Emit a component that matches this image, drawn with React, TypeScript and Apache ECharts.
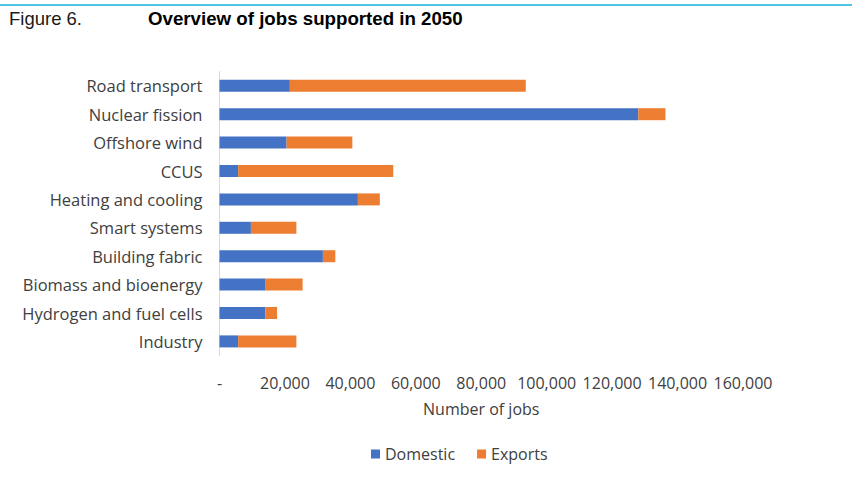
import React, { useEffect, useRef } from "react";
import * as echarts from "echarts";

const categories = [
  "Road transport",
  "Nuclear fission",
  "Offshore wind",
  "CCUS",
  "Heating and cooling",
  "Smart systems",
  "Building fabric",
  "Biomass and bioenergy",
  "Hydrogen and fuel cells",
  "Industry",
];
const domestic = [21500, 128000, 20500, 5700, 42300, 9600, 31600, 14100, 14000, 5700];
const exportsJobs = [72100, 8300, 20100, 47400, 6700, 13900, 3800, 11300, 3600, 17800];
const seriesNames = ["Domestic", "Exports"];
const xMax = 160000;
const xInterval = 20000;

const FONT = "'Open Sans', sans-serif";
const LABEL = "#404040";

export default function App() {
  const ref = useRef<HTMLDivElement>(null);
  useEffect(() => {
    if (!ref.current) return;
    const chart = echarts.init(ref.current, undefined, { renderer: "svg" });
    chart.setOption({
      animation: false,
      backgroundColor: "#ffffff",
      textStyle: { fontFamily: FONT },
      graphic: [
        { type: "line", shape: { x1: 0, y1: 5, x2: 852, y2: 5 }, style: { stroke: "#4fc3e8", lineWidth: 2 } },
        {
          type: "text",
          x: 9,
          y: 18,
          style: { text: "Figure 6.", font: "18.5px 'Liberation Sans', Arial, sans-serif", fill: "#1a1a1a", textVerticalAlign: "middle" },
        },
        {
          type: "text",
          x: 148,
          y: 18,
          style: { text: "Overview of jobs supported in 2050", font: "bold 18.7px 'Liberation Sans', Arial, sans-serif", fill: "#000000", textVerticalAlign: "middle" },
        },
      ],
      color: ["#4472c4", "#ed7d31"],
      legend: {
        data: seriesNames,
        bottom: 28,
        left: 366,
        itemWidth: 9,
        itemHeight: 9,
        itemGap: 22,
        icon: "rect",
        textStyle: { color: LABEL, fontSize: 16, fontFamily: FONT },
      },
      grid: { left: 219.5, right: 109, top: 71.6, height: 284, containLabel: false },
      xAxis: {
        type: "value",
        min: 0,
        max: xMax,
        interval: xInterval,
        name: "Number of jobs",
        nameLocation: "middle",
        nameGap: 45,
        nameTextStyle: { color: LABEL, fontSize: 16, fontFamily: FONT },
        axisLine: { show: false },
        axisTick: { show: false },
        splitLine: { show: false },
        axisLabel: {
          color: LABEL,
          fontSize: 16,
          fontFamily: FONT,
          margin: 19,
          formatter: (v: number) => (v === 0 ? "-" : v.toLocaleString("en-US")),
        },
      },
      yAxis: {
        type: "category",
        data: categories,
        inverse: true,
        axisLine: { show: true, lineStyle: { color: "#d9d9d9", width: 1 } },
        axisTick: { show: false },
        axisLabel: { color: LABEL, fontSize: 16.5, fontFamily: FONT, margin: 17 },
      },
      series: [
        { name: seriesNames[0], type: "bar", stack: "jobs", data: domestic, barWidth: 12 },
        { name: seriesNames[1], type: "bar", stack: "jobs", data: exportsJobs, barWidth: 12 },
      ],
    });
    return () => chart.dispose();
  }, []);
  return <div ref={ref} style={{ width: 852, height: 495, position: "absolute", left: 0, top: 0 }} />;
}
